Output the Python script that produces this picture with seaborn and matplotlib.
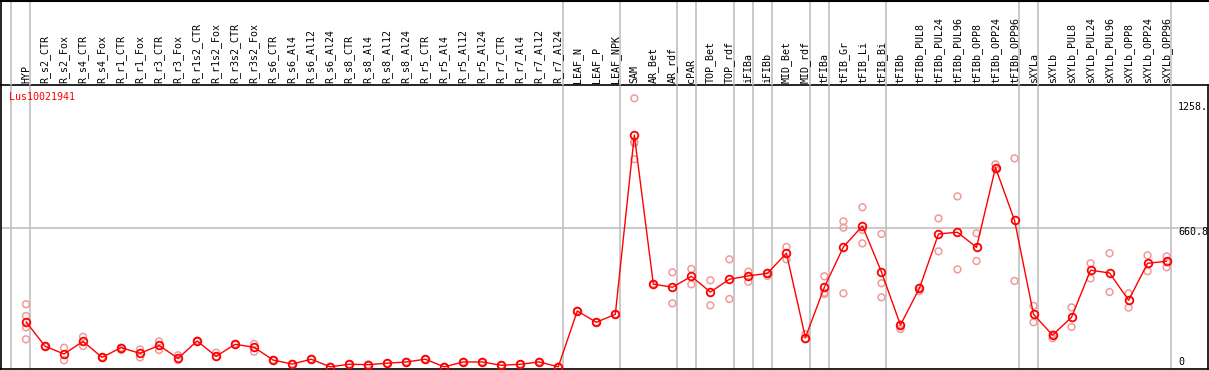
import numpy as np
import pandas as pd
import matplotlib
matplotlib.use("Agg")
import matplotlib.pyplot as plt
import seaborn as sns

categories = ["HYP", "R_s2_CTR", "R_s2_Fox", "R_s4_CTR", "R_s4_Fox", "R_r1_CTR", "R_r1_Fox",
              "R_r3_CTR", "R_r3_Fox", "R_r1s2_CTR", "R_r1s2_Fox", "R_r3s2_CTR", "R_r3s2_Fox",
              "R_s6_CTR", "R_s6_Al4", "R_s6_Al12", "R_s6_Al24", "R_s8_CTR", "R_s8_Al4",
              "R_s8_Al12", "R_s8_Al24", "R_r5_CTR", "R_r5_Al4", "R_r5_Al12", "R_r5_Al24",
              "R_r7_CTR", "R_r7_Al4", "R_r7_Al12", "R_r7_Al24", "LEAF_N", "LEAF_P", "LEAF_NPK",
              "SAM", "AR_Bet", "AR_rdf", "cPAR", "TOP_Bet", "TOP_rdf", "iFIBa", "iFIBb",
              "MID_Bet", "MID_rdf", "tFIBa", "tFIB_Gr", "tFIB_Li", "tFIB_Bi", "tFIBb",
              "tFIBb_PUL8", "tFIBb_PUL24", "tFIBb_PUL96", "tFIBb_OPP8", "tFIBb_OPP24",
              "tFIBb_OPP96", "sXYLa", "sXYLb", "sXYLb_PUL8", "sXYLb_PUL24", "sXYLb_PUL96",
              "sXYLb_OPP8", "sXYLb_OPP24", "sXYLb_OPP96"]

mean_values = [216, 99, 62, 122, 46, 92, 65, 103, 41, 124, 51, 108, 94,
               33, 14, 37, 1, 13, 11, 18, 24, 37, 1, 24, 24, 8, 13, 24, 1,
               267, 213, 251, 1105, 395, 380, 432, 357, 418, 434, 446, 542, 140,
               381, 572, 672, 453, 200, 376, 634, 642, 570, 950, 699,
               251, 152, 237, 461, 448, 318, 494, 504]

nan = np.nan
rep_a = [299, 100, 92, 144, 48, 92, 84, 122, 56, 126, 68, 110, 110,
         34, 15, 38, 2, 14, 12, 19, 25, 38, 2, 25, 25, 9, 14, 25, 2,
         268, 214, 252, 1280, 396, 451, 467, 413, 513, 454, 434, 572, 156,
         432, 694, 761, 634, 181, 362, 708, 813, 637, 966, 994,
         291, 137, 284, 494, 542, 351, 532, 527]
rep_b = [243, 96, 32, 100, 44, 81, 46, 81, 33, 122, 48, 106, 73,
         32, 13, 36, 0, 12, 10, 17, 23, 36, 0, 23, 23, 7, 12, 23, 0,
         266, 212, 250, 1073, 394, 303, 394, 294, 324, 406, 448, 513, 132,
         354, 664, 653, 399, 202, 378, 551, 465, 505, 942, 410,
         213, 155, 191, 422, 357, 283, 456, 475]
rep_c = [189, nan, nan, nan, nan, nan, nan, nan, nan, nan, nan, nan, nan,
         nan, nan, nan, nan, nan, nan, nan, nan, nan, nan, nan, nan, nan, nan, nan, nan,
         nan, nan, nan, 1066, nan, nan, nan, nan, nan, nan, nan, nan, nan,
         348, 351, 589, 332, nan, nan, nan, nan, nan, nan, nan,
         nan, nan, nan, nan, nan, nan, nan, 500]
rep_d = [132, nan, nan, nan, nan, nan, nan, nan, nan, nan, nan, nan, nan,
         nan, nan, nan, nan, nan, nan, nan, nan, nan, nan, nan, nan, nan, nan, nan, nan,
         nan, nan, nan, 990, nan, nan, nan, nan, nan, nan, nan, nan, nan,
         nan, nan, nan, nan, nan, nan, nan, nan, nan, nan, nan,
         nan, nan, nan, nan, nan, nan, nan, nan]

group_after = ["HYP", "R_r7_Al24", "LEAF_NPK", "AR_rdf", "cPAR", "TOP_rdf", "iFIBa", "iFIBb",
               "MID_rdf", "tFIBa", "tFIB_Bi", "tFIBb_OPP96", "sXYLa", "sXYLb_OPP96"]
gene_name = "Lus10021941"
y_tick_values = [1258.0, 660.8, 0]
y_tick_labels = ["1258.", "660.8", "0"]

sns.set_theme(style="white")
plt.rcParams['font.family'] = ['DejaVu Sans Mono', 'DejaVu Sans']

W, H = 1209, 370
fig = plt.figure(figsize=(W / 100, H / 100), dpi=100)

top_px, bot_px = 85, 369
ax = fig.add_axes([0.5 / W, 1 - bot_px / H, 1207.5 / W, (bot_px - top_px) / H])

n = len(categories)
xpos = np.arange(n)
df_mean = pd.DataFrame({"x": xpos, "value": mean_values})
reps = []
for arr in (rep_a, rep_b, rep_c, rep_d):
    reps.append(pd.DataFrame({"x": xpos, "value": arr}))
df_rep = pd.concat(reps).dropna()

spacing = 19.01
x0_px = 26.0
ax.set_xlim((0.5 - x0_px) / spacing, (1208 - x0_px) / spacing)
px_per_unit = (367 - 228.3) / 660.8
ax.set_ylim(-(bot_px - 367) / px_per_unit, (367 - top_px) / px_per_unit)

ax.axvline(-0.77, color="#c0c0c0", lw=1.2, zorder=0)
for name in group_after:
    ax.axvline(categories.index(name) + 0.23, color="#c0c0c0", lw=1.2, zorder=0)
ax.axhline(y_tick_values[1], color="#c0c0c0", lw=1.2, zorder=0)

sns.scatterplot(data=df_rep, x="x", y="value", ax=ax, marker="o", s=24,
                facecolors="none", edgecolor="#f09a9a", linewidth=1.1, zorder=2)
sns.lineplot(data=df_mean, x="x", y="value", ax=ax, color="#ff0000", lw=1.0,
             marker="o", markersize=5.5, markerfacecolor="none",
             markeredgecolor="#ff0000", markeredgewidth=1.3, zorder=3)

ax.set_xticks([])
ax.set_yticks([])
ax.set_xlabel("")
ax.set_ylabel("")
for s in ax.spines.values():
    s.set_color("black")
    s.set_linewidth(1.2)

for i, lab in enumerate(categories):
    xf = (x0_px + spacing * i) / W
    fig.text(xf, 1 - 83 / H, lab, rotation=90, ha="center", va="bottom",
             fontsize=7.2, color="black")

for name in group_after[1:]:
    xf = (x0_px + spacing * (categories.index(name) + 0.23)) / W
    fig.add_artist(plt.Line2D([xf, xf], [1 - top_px / H, 1], color="#c0c0c0", lw=1.2))
for xp in [11.0, x0_px + spacing * 0.23]:
    fig.add_artist(plt.Line2D([xp / W, xp / W], [1 - top_px / H, 1], color="#c0c0c0", lw=1.2))
fig.add_artist(plt.Line2D([0, 1], [1 - 0.5 / H, 1 - 0.5 / H], color="black", lw=1.5))
fig.add_artist(plt.Line2D([0.5 / W, 0.5 / W], [1 - top_px / H, 1], color="black", lw=1.2))

fig.text(9 / W, 1 - 97 / H, gene_name, color="#ff0000", fontsize=7.2, ha="left", va="center")

label_y_px = [107, 232, 362]
for val, lab, ypx in zip(y_tick_values, y_tick_labels, label_y_px):
    fig.text(1178 / W, 1 - ypx / H, lab, fontsize=7.2, ha="left", va="center", color="black")

fig.savefig("out.png", dpi=100)
